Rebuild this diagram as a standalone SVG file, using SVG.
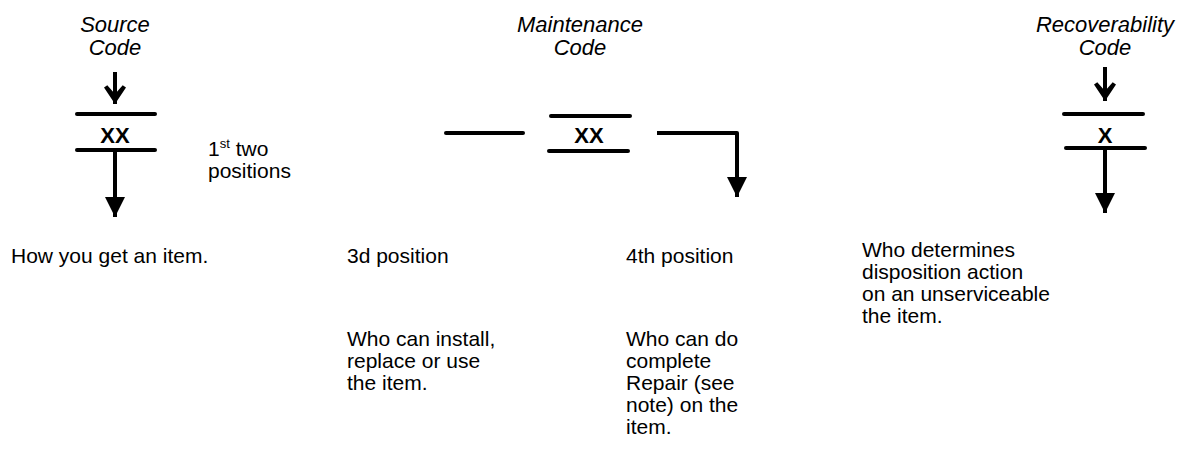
<svg xmlns="http://www.w3.org/2000/svg" width="1199" height="458" viewBox="0 0 1199 458">
<style>
text{font-family:"Liberation Sans",Arial,sans-serif;font-size:21px;fill:#000}
.t{font-style:italic;text-anchor:middle;font-size:22px}
.c{font-weight:bold;text-anchor:middle;font-size:22px}
.bar{stroke:#000;stroke-width:4;stroke-linecap:round;fill:none}
.sh{stroke:#000;stroke-width:4;fill:none}
</style>
<defs>
<marker id="ah" markerUnits="userSpaceOnUse" markerWidth="20" markerHeight="20" refX="9" refY="18" orient="0" viewBox="0 0 18 18"><path d="M0,0 L18,0 L9,18 Z" fill="#000"/></marker>
<marker id="as" markerUnits="userSpaceOnUse" markerWidth="22" markerHeight="20" refX="10" refY="17" orient="0" viewBox="0 0 20 18"><path d="M0,2 L3,0 L10,8 L17,0 L20,2 L10,17 Z" fill="#000"/></marker>
</defs>
<g id="source">
<text class="t" x="115" y="32">Source</text>
<text class="t" x="115" y="55">Code</text>
<line class="bar" x1="77" y1="114" x2="155" y2="114"/>
<text class="c" x="115" y="143">XX</text>
<line class="bar" x1="77" y1="150" x2="155" y2="150"/>
<text x="208" y="156">1<tspan font-size="13" dy="-8">st</tspan><tspan dy="8"> two</tspan></text>
<text x="208" y="178">positions</text>
</g>
<g id="maintenance">
<text class="t" x="580" y="32">Maintenance</text>
<text class="t" x="580" y="55">Code</text>
<line class="bar" x1="551" y1="116" x2="630" y2="116"/>
<text class="c" x="589" y="143">XX</text>
<line class="bar" x1="549" y1="151" x2="628" y2="151"/>
</g>
<g id="recoverability">
<text class="t" x="1105" y="32">Recoverability</text>
<text class="t" x="1105" y="55">Code</text>
<line class="bar" x1="1064" y1="114" x2="1143" y2="114"/>
<text class="c" x="1105" y="143">X</text>
<line class="bar" x1="1066" y1="148" x2="1145" y2="148"/>
</g>
<g id="connectors">
<line class="sh" x1="115" y1="72" x2="115" y2="104" marker-end="url(#as)"/>
<line class="sh" x1="115" y1="150" x2="115" y2="217" marker-end="url(#ah)"/>
<line class="bar" x1="446" y1="133" x2="523" y2="133"/>
<path class="sh" d="M657,133 H737 V197" stroke-linejoin="round" marker-end="url(#ah)"/>
<line class="sh" x1="1105" y1="67" x2="1105" y2="101" marker-end="url(#as)"/>
<line class="sh" x1="1105" y1="148" x2="1105" y2="213" marker-end="url(#ah)"/>
</g>
<g id="notes">
<text x="11" y="263">How you get an item.</text>
<text x="347" y="263">3d position</text>
<text x="626" y="263">4th position</text>
<text x="347" y="346">Who can install,</text>
<text x="347" y="368">replace or use</text>
<text x="347" y="390">the item.</text>
<text x="626" y="346">Who can do</text>
<text x="626" y="368">complete</text>
<text x="626" y="390">Repair (see</text>
<text x="626" y="412">note) on the</text>
<text x="626" y="434">item.</text>
<text x="862" y="257">Who determines</text>
<text x="862" y="279">disposition action</text>
<text x="862" y="301">on an unserviceable</text>
<text x="862" y="323">the item.</text>
</g>
</svg>
